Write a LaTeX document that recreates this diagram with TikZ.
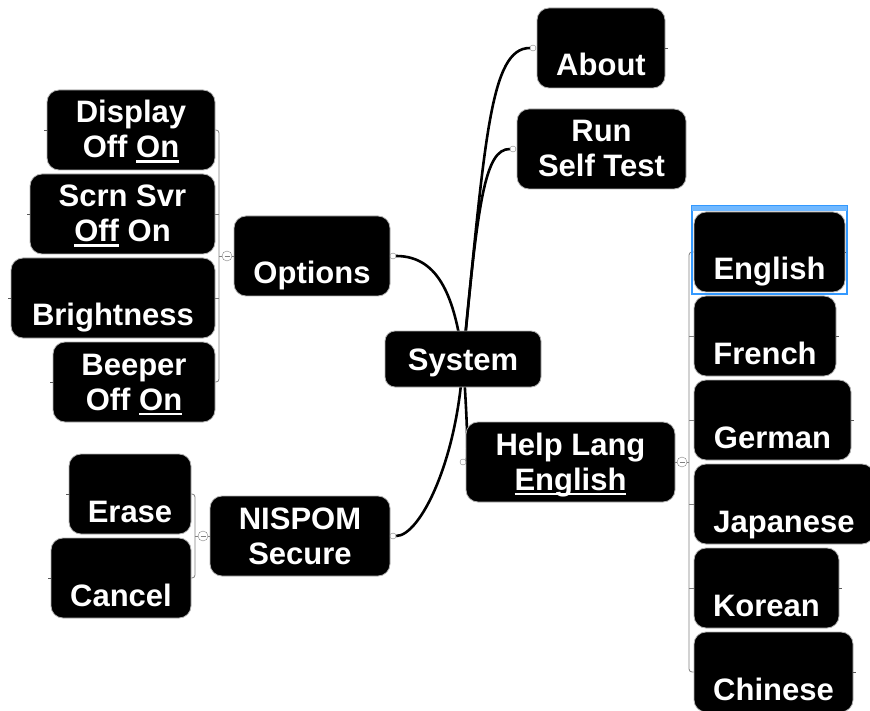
\documentclass[tikz,border=0pt]{standalone}
\usepackage{fontspec}
\setmainfont{Liberation Sans}
\usetikzlibrary{backgrounds}
\definecolor{selblue}{RGB}{51,153,255}
\newcommand{\twoline}[2]{\begin{tabular}[b]{@{}c@{}}#1\\#2\end{tabular}}
\newcommand{\chosen}[1]{\setbox0\hbox{#1}\rlap{\rule[-5pt]{\wd0}{2.5pt}}\box0\relax}
\tikzset{
  item/.style={rectangle, rounded corners=12pt, fill=black, draw=gray!60, line width=0.8pt,
    text=white, font=\fontsize{31}{35}\selectfont\bfseries, inner sep=0pt,
    minimum height=80pt, text height=62pt, text depth=6pt},
  root/.style={item, minimum height=56pt, rounded corners=10pt, text height=26pt, text depth=4pt},
  dot/.style={circle, draw=gray, fill=white, inner sep=0pt, minimum size=6pt},
  toggle/.style={circle, draw=gray, fill=white, inner sep=0pt, minimum size=10pt,
    path picture={\draw[gray] ([xshift=-2.5pt]path picture bounding box.center)
      -- ([xshift=2.5pt]path picture bounding box.center);}},
  branch/.style={line width=2.6pt},
  bracket/.style={gray, line width=0.8pt, rounded corners=3pt},
  stub/.style={gray!70!black, line width=0.8pt}
}
\begin{document}
\begin{tikzpicture}[x=1pt, y=-1pt]
  \useasboundingbox (0,0) rectangle (870,711);
  \node[root, minimum width=156pt] (sys) at (463,359) {System};
  \node[item, minimum width=128pt] (about) at (601,48) {About};
  \node[item, minimum width=169pt] (run) at (601.5,149) {\twoline{Run}{Self Test}};
  \node[item, minimum width=156pt] (opt) at (312,256) {Options};
  \node[item, minimum width=209pt] (help) at (570.5,462) {\twoline{Help Lang}{\chosen{English}}};
  \node[item, minimum width=180pt] (nis) at (300,536) {\twoline{NISPOM}{Secure}};
  \node[item, minimum width=168pt] (disp) at (131,130) {\twoline{Display}{Off \chosen{On}}};
  \node[item, minimum width=185pt] (scrn) at (122.5,214) {\twoline{Scrn Svr}{\chosen{Off} On}};
  \node[item, minimum width=204pt] (bright) at (113,298) {Brightness};
  \node[item, minimum width=162pt] (beep) at (134,382) {\twoline{Beeper}{Off \chosen{On}}};
  \node[item, minimum width=122pt] (erase) at (130,494) {Erase};
  \node[item, minimum width=140pt] (cancel) at (121,578) {Cancel};
  \node[item, minimum width=151pt] (english) at (769.5,252) {English};
  \node[item, minimum width=142pt] (french) at (765,336) {French};
  \node[item, minimum width=157pt] (german) at (772.5,420) {German};
  \node[item, minimum width=180pt] (japanese) at (784,504) {Japanese};
  \node[item, minimum width=145pt] (korean) at (766.5,588) {Korean};
  \node[item, minimum width=159pt] (chinese) at (773.5,672) {Chinese};
  \node[dot] (aboutdot) at (533,48) {};
  \node[dot] (rundot) at (513,149) {};
  \node[dot] (optdot) at (393,256) {};
  \node[dot] (nisdot) at (393,536) {};
  \node[dot] (helpdot) at (463,462) {};
  \node[toggle] (optc) at (227,256) {};
  \node[toggle] (nisc) at (203,536) {};
  \node[toggle] (helpc) at (682,462) {};
  \coordinate (optbar) at (219,256);
  \coordinate (nisbar) at (195,536);
  \coordinate (helpbar) at (689,462);
  \begin{pgfonlayer}{background}
    \draw[branch] (sys.center) .. controls (485,140) and (490,48) .. (aboutdot);
    \draw[branch] (sys.center) .. controls (478,200) and (485,149) .. (rundot);
    \draw[branch] (sys.center) .. controls (455,300) and (440,256) .. (optdot);
    \draw[branch] (sys.center) .. controls (458,460) and (420,536) .. (nisdot);
    \draw[branch] (sys.center) .. controls (468,430) and (468,462) .. (helpdot);
  \end{pgfonlayer}
  \begin{scope}[bracket]
    \draw (disp.east) -| (optbar) |- (beep.east);
    \draw (scrn.east) -- (scrn.east -| optbar);
    \draw (bright.east) -- (bright.east -| optbar);
    \draw (optbar) -- (optc) -- (opt.west);
    \draw (erase.east) -| (nisbar) |- (cancel.east);
    \draw (nisbar) -- (nisc) -- (nis.west);
    \draw (english.west) -| (helpbar) |- (chinese.west);
    \foreach \n in {french,german,japanese,korean}
      \draw (\n.west) -- (\n.west -| helpbar);
    \draw (help.east) -- (helpc) -- (helpbar);
  \end{scope}
  \foreach \n in {disp,scrn,bright,beep,erase,cancel}
    \draw[stub] (\n.west) -- ++(-3,0);
  \foreach \n in {about,english,french,german,japanese,korean,chinese}
    \draw[stub] (\n.east) -- ++(3,0);
  \draw[selblue, line width=1.5pt] (692,206) rectangle (847,294);
  \fill[selblue!70] (692,206) rectangle (847,211);
\end{tikzpicture}
\end{document}
